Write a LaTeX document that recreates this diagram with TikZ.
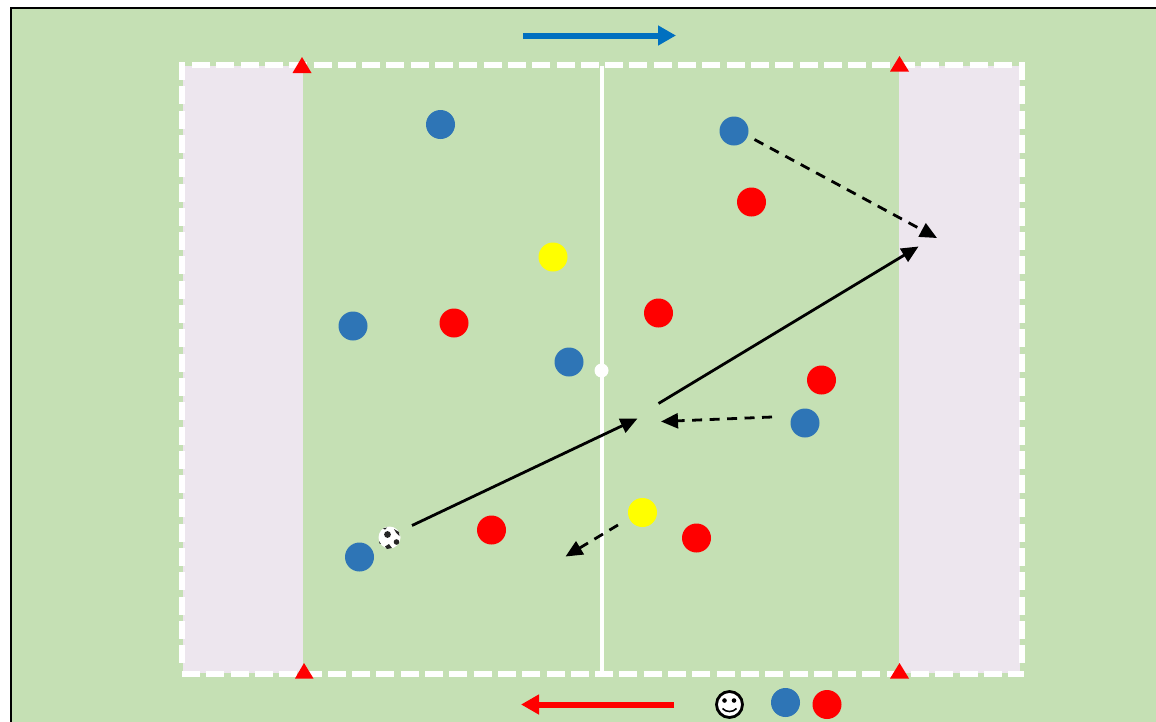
\documentclass[tikz,border=0pt]{standalone}
\usetikzlibrary{arrows.meta}
\definecolor{pitch}{HTML}{C5E0B4}
\definecolor{zone}{HTML}{EDE6EE}
\definecolor{bluep}{HTML}{2E75B6}
\definecolor{bluearrow}{HTML}{0070C0}
\definecolor{yell}{HTML}{FFFF00}
\tikzset{
  x=1pt,y=-1pt,
  player/.style={circle,minimum size=29pt,inner sep=0pt,outer sep=0pt,fill=#1},
  boundary/.style={draw=white,line width=6pt,dash pattern=on 18pt off 6.3pt},
  run/.style={line width=2.8pt,-{Triangle[length=17pt,width=15pt]}},
  runs/.style={run,dash pattern=on 10pt off 7.5pt},
  dir/.style={line width=6pt,-{Triangle[length=18pt,width=19pt]}},
  cone/.style={fill=red},
}
\begin{document}
\begin{tikzpicture}
\useasboundingbox (0,0) rectangle (1156,721);
\fill[white] (0,0) rectangle (1156,721);
\fill[pitch,draw=black,line width=2pt] (11,8) rectangle (1160,725);
\fill[zone] (183,66) rectangle (303,673);
\fill[zone] (899,66) rectangle (1020,673);
\draw[boundary] (182,62) -- (182,668);
\draw[boundary] (1022,62) -- (1022,668);
\draw[boundary] (192,65) -- (1013,65);
\draw[boundary] (182,674.3) -- (1024,674.3);
\draw[white,line width=4pt] (601.5,66) -- (601.5,672);
\begin{scope}[shift={(0.5,0.5)}]
\node[player=white,minimum size=14pt] (spot) at (601,370) {};
\foreach \n/\x/\y in {b1/440/124,b2/733.5/130.5,b3/352.5/325.5,b4/568.5/361.5,b5/804.5/422.5,b6/359/556.5,b7/785/702}
  \node[player=bluep] (\n) at (\x,\y) {};
\foreach \n/\x/\y in {r1/751/201.5,r2/453.5/322.5,r3/658/312.5,r4/821/379.5,r5/491/529.5,r6/696/537.5,r7/826.5/704}
  \node[player=red] (\n) at (\x,\y) {};
\foreach \n/\x/\y in {y1/552.5/256.5,y2/642/512}
  \node[player=yell] (\n) at (\x,\y) {};
\end{scope}
% cones
\fill[cone] (302,57) -- (311.5,73) -- (292.5,73) -- cycle;
\fill[cone] (899.5,56) -- (909,71.5) -- (890,71.5) -- cycle;
\fill[cone] (304,663) -- (313.5,678.5) -- (295,678.5) -- cycle;
\fill[cone] (899.5,663) -- (909,678.5) -- (890,678.5) -- cycle;
% ball
\node[player=white,minimum size=22pt] (ball) at (389.5,537.5) {};
\fill[black!85] (387.5,534.5) circle (3.4pt);
\fill[black!85] (396.5,542) circle (2.8pt);
\fill[black!85] (385,546.5) -- (389,544) -- (392,548) -- (387,549) -- cycle;
\fill[black!85] (394,529) -- (399,532) -- (399.5,536) -- (396,532.5) -- cycle;
\fill[black!85] (379,541) -- (381,544) -- (379.5,543.5) -- cycle;
\fill[black!85] (383,528.5) -- (387,527.5) -- (385,529.5) -- cycle;
% smiley
\node[circle,draw=black,fill=white,line width=2.8pt,minimum size=26pt,inner sep=0pt] (smile) at (729.5,704.5) {};
\fill (724.5,700.5) circle (2.3pt);
\fill (734,700.5) circle (2.3pt);
\draw[line width=1.6pt] (722.5,708.5) .. controls (726,712.5) and (733,712.5) .. (736.5,708.5);
% connector ends
\coordinate (a1s) at (412,525.5);
\coordinate (a1e) at (637.5,418.5);
\coordinate (a2s) at (658.5,403.5);
\coordinate (a2e) at (918.5,246.5);
\coordinate (d1s) at (754.5,139.5);
\coordinate (d1e) at (937,238);
\coordinate (d2s) at (772,417);
\coordinate (d2e) at (661,421.5);
\coordinate (d3s) at (618,525);
\coordinate (d3e) at (565.5,556.5);
\coordinate (ba) at (523,35.5);
\coordinate (bb) at (676,35.5);
\coordinate (ra) at (674,704.5);
\coordinate (rb) at (521,704.5);
\draw[run] (a1s) -- (a1e);
\draw[run] (a2s) -- (a2e);
\draw[runs] (d1s) -- (d1e);
\draw[runs] (d2s) -- (d2e);
\draw[runs] (d3s) -- (d3e);
\draw[dir,draw=bluearrow,fill=bluearrow] (ba) -- (bb);
\draw[dir,draw=red,fill=red] (ra) -- (rb);
\end{tikzpicture}
\end{document}
